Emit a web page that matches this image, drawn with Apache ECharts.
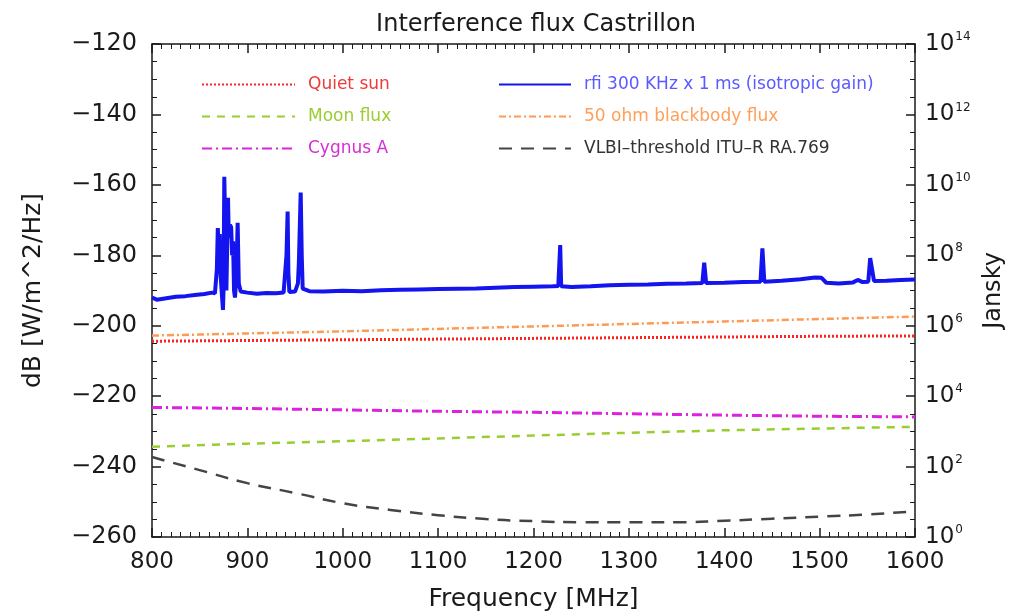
<!DOCTYPE html>
<html>
<head>
<meta charset="utf-8">
<script src="https://cdn.jsdelivr.net/npm/echarts@6/dist/echarts.min.js"></script>
<style>
  html, body { margin: 0; padding: 0; background: #fff; }
  #chart { width: 1009px; height: 612px; }
</style>
</head>
<body>
<div id="chart"></div>
<script>
// frequency grid for the smooth reference curves [MHz]
const freqs = [800, 900, 1000, 1100, 1200, 1300, 1400, 1500, 1600];

// flux curves [dB W/m^2/Hz]
const quietSun = [-204.4, -204.2, -204.0, -203.8, -203.6, -203.4, -203.2, -203.0, -202.9];
const moonFlux = [-234.4, -233.5, -232.8, -232.0, -231.2, -230.4, -229.7, -229.2, -228.7];
const cygnusA = [-223.2, -223.5, -223.9, -224.3, -224.6, -225.0, -225.4, -225.7, -225.9];
const blackbody = [-202.8, -202.2, -201.6, -200.9, -200.2, -199.5, -198.8, -198.1, -197.4];

// VLBI threshold, sampled more densely since it curves
const vlbiFreqs = [800, 850, 900, 950, 1000, 1050, 1100, 1150, 1200, 1250, 1300, 1350, 1400, 1450, 1500, 1550, 1600];
const vlbi = [-237.3, -241.0, -244.7, -247.5, -250.4, -252.3, -253.8, -254.9, -255.5, -255.8, -255.8, -255.8, -255.4, -254.8, -254.2, -253.6, -252.7];

// measured rfi spectrum [MHz, dB]
const rfi = [
  [800, -192.0], [805, -192.6], [815, -192.2], [825, -191.8], [835, -191.6], [845, -191.3],
  [855, -191.0], [863, -190.6], [866, -190.8], [868, -184.0], [869, -172.3], [870, -180.0],
  [871, -174.0], [872, -186.0], [873, -190.0], [874.4, -195.5], [875, -190.0], [875.8, -157.7],
  [877, -175.0], [878, -190.0], [879.7, -163.7], [880.5, -175.0], [881.8, -171.4], [883, -172.0],
  [884, -180.0], [885, -176.0], [886, -190.0], [887, -192.0], [888.5, -186.0], [889.8, -170.8],
  [891, -188.0], [893, -190.3], [900, -190.6], [910, -190.9], [920, -190.7], [930, -190.8],
  [938, -190.6], [941, -180.0], [942.2, -167.6], [943, -185.0], [944, -190.4], [950, -190.3],
  [953, -188.0], [954, -182.0], [955.9, -162.2], [957, -180.0], [958, -189.5], [965, -190.2],
  [980, -190.3], [1000, -190.1], [1020, -190.2], [1040, -189.9], [1060, -189.8], [1080, -189.7],
  [1100, -189.6], [1120, -189.5], [1140, -189.4], [1160, -189.2], [1180, -189.0], [1200, -188.9],
  [1220, -188.8], [1226, -188.7], [1228, -177.1], [1229, -188.8], [1240, -189.0], [1260, -188.8],
  [1280, -188.5], [1300, -188.4], [1320, -188.3], [1340, -188.1], [1360, -188.0], [1377, -187.9],
  [1379, -182.1], [1381, -187.9], [1400, -187.8], [1420, -187.6], [1438, -187.5], [1440, -178.0],
  [1442, -187.5], [1460, -187.2], [1480, -186.8], [1495, -186.3], [1502, -186.4], [1507, -187.8],
  [1520, -188.0], [1535, -187.7], [1540, -187.0], [1545, -187.6], [1551, -187.5], [1553, -180.8],
  [1555, -184.0], [1557, -187.3], [1570, -187.2], [1585, -187.0], [1600, -186.9]
];

// right axis: Jansky exponents
const janskyExp = [0, 2, 4, 6, 8, 10, 12, 14];

const pairs = (xs, ys) => xs.map((x, i) => [x, ys[i]]);

const FONT = 'DejaVu Sans';
const INK = '#1a1a1a';

const chart = echarts.init(document.getElementById('chart'), null, { renderer: 'canvas' });

const tickStyle = {
  axisLine: { show: true, lineStyle: { color: INK, width: 1.5 } },
  axisTick: { show: true, inside: true, length: 9, lineStyle: { color: INK, width: 1.5 } },
  splitLine: { show: false },
  minorSplitLine: { show: false },
};
const minor = n => ({ minorTick: { show: true, splitNumber: n, length: 5, lineStyle: { color: INK, width: 1 } } });

const legendText = (color) => ({ color: color, fontFamily: FONT, fontSize: 17, padding: [0, 0, 0, 8] });

chart.setOption({
  backgroundColor: '#fff',
  animation: false,
  title: {
    text: 'Interference flux Castrillon',
    left: 531, top: 8, textAlign: 'center',
    textStyle: { fontFamily: FONT, fontSize: 24, fontWeight: 'normal', color: INK },
  },
  grid: { left: 152, right: 94, top: 44, bottom: 75, outerBoundsMode: 'none', containLabel: false },
  legend: [
    {
      orient: 'vertical', left: 196, top: 71,
      itemWidth: 93, itemHeight: 18, itemGap: 15,
      selectedMode: false,
      itemStyle: { opacity: 0 },
      textStyle: { fontFamily: FONT, fontSize: 17 },
      data: [
        { name: 'Quiet sun', textStyle: legendText('#f03a3a') },
        { name: 'Moon flux', textStyle: legendText('#9acd32') },
        { name: 'Cygnus A', textStyle: legendText('#d42fd4') },
      ],
    },
    {
      orient: 'vertical', left: 493, top: 71,
      itemWidth: 72, itemHeight: 18, itemGap: 15,
      selectedMode: false,
      itemStyle: { opacity: 0 },
      textStyle: { fontFamily: FONT, fontSize: 17 },
      data: [
        { name: 'rfi 300 KHz x 1 ms (isotropic gain)', textStyle: legendText('#5a5aff') },
        { name: '50 ohm blackbody flux', textStyle: legendText('#ff9f5a') },
        { name: 'VLBI\u2013threshold ITU\u2013R RA.769', textStyle: legendText('#333333') },
      ],
    },
  ],
  xAxis: [
    Object.assign({
      type: 'value', min: 800, max: 1600, interval: 100, position: 'bottom',
      name: 'Frequency [MHz]', nameLocation: 'middle', nameGap: 50,
      nameTextStyle: { fontFamily: FONT, fontSize: 25, color: INK },
      axisLabel: { fontFamily: FONT, fontSize: 23, color: INK, margin: 14, formatter: v => String(v) },
    }, tickStyle, minor(10)),
    Object.assign({
      type: 'value', min: 800, max: 1600, interval: 100, position: 'top',
      axisLabel: { show: false },
    }, tickStyle, minor(10)),
  ],
  yAxis: [
    Object.assign({
      type: 'value', min: -260, max: -120, interval: 20, position: 'left',
      name: 'dB [W/m^2/Hz]', nameLocation: 'middle', nameGap: 106, nameRotate: 90,
      nameTextStyle: { fontFamily: FONT, fontSize: 25, color: INK },
      axisLabel: {
        fontFamily: FONT, fontSize: 24, color: INK, margin: 15,
        formatter: v => String(v).replace('-', '\u2212'),
      },
    }, tickStyle, minor(4)),
    Object.assign({
      type: 'value', min: 0, max: 14, interval: 2, position: 'right',
      name: 'Jansky', nameLocation: 'middle', nameGap: 66, nameRotate: 90,
      nameTextStyle: { fontFamily: FONT, fontSize: 24, color: INK },
      axisLabel: {
        margin: 10, color: INK,
        formatter: v => '{b|10}{s|' + v + '}',
        rich: {
          b: { fontFamily: FONT, fontSize: 23, color: INK },
          s: { fontFamily: FONT, fontSize: 12, color: INK, padding: [0, 0, 14, 1] },
        },
      },
    }, tickStyle, minor(4)),
  ],
  series: [
    {
      name: 'Quiet sun', type: 'line', symbol: 'none', z: 3,
      data: pairs(freqs, quietSun),
      lineStyle: { color: '#ff2020', width: 3, type: [2, 2] },
      itemStyle: { color: '#ff2020' },
    },
    {
      name: 'Moon flux', type: 'line', symbol: 'none', z: 3,
      data: pairs(freqs, moonFlux),
      lineStyle: { color: '#9acd32', width: 2.5, type: [8, 7] },
      itemStyle: { color: '#9acd32' },
    },
    {
      name: 'Cygnus A', type: 'line', symbol: 'none', z: 3,
      data: pairs(freqs, cygnusA),
      lineStyle: { color: '#dd22dd', width: 3, type: [10, 4, 2, 4] },
      itemStyle: { color: '#dd22dd' },
    },
    {
      name: 'rfi 300 KHz x 1 ms (isotropic gain)', type: 'line', symbol: 'none', z: 4,
      data: rfi,
      lineStyle: { color: '#1414ee', width: 4 },
      itemStyle: { color: '#1414ee' },
    },
    {
      name: '50 ohm blackbody flux', type: 'line', symbol: 'none', z: 3,
      data: pairs(freqs, blackbody),
      lineStyle: { color: '#ff9a55', width: 2.5, type: [7, 3, 2, 3] },
      itemStyle: { color: '#ff9a55' },
    },
    {
      name: 'VLBI\u2013threshold ITU\u2013R RA.769', type: 'line', symbol: 'none', smooth: true, z: 3,
      data: pairs(vlbiFreqs, vlbi),
      lineStyle: { color: '#444444', width: 2.5, type: [13, 9] },
      itemStyle: { color: '#444444' },
    },
  ],
});
</script>
</body>
</html>
